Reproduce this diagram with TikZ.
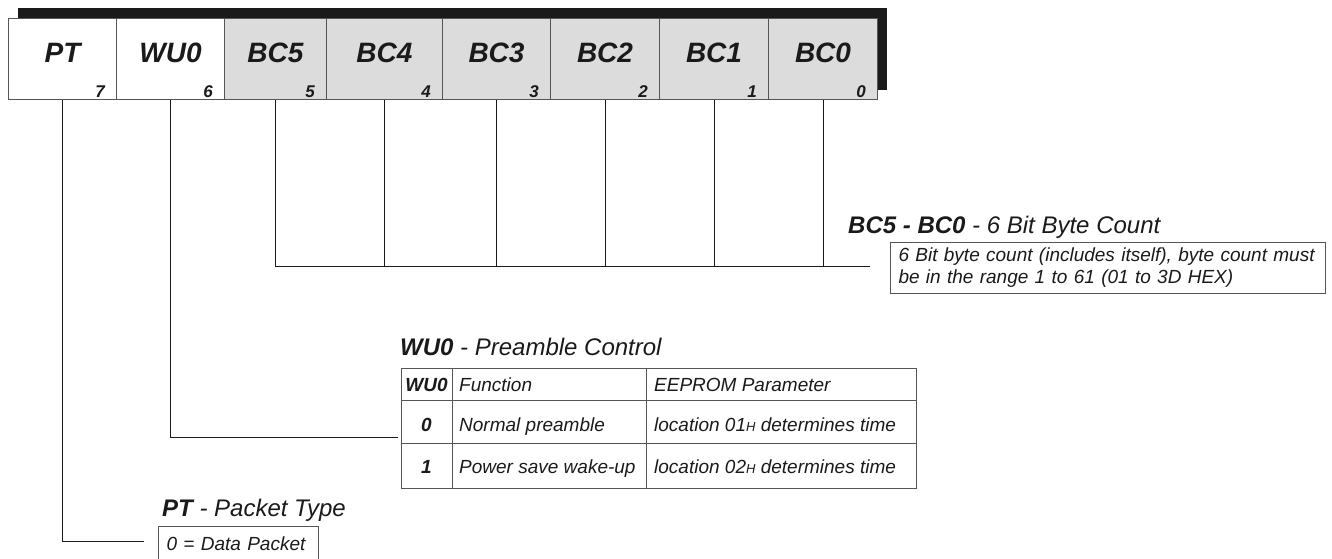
\documentclass[tikz,border=0pt]{standalone}
\usepackage{fontspec}
\setmainfont{Liberation Sans}
\definecolor{ink}{HTML}{1A1A1A}
\definecolor{cellgray}{HTML}{DCDCDC}
\definecolor{linegray}{HTML}{555555}
\begin{document}
\begin{tikzpicture}[x=1pt,y=-1pt,
  cell/.style={draw=linegray, line width=1pt, minimum height=81pt, inner sep=0pt, anchor=north west},
  namelbl/.style={font=\fontsize{28}{30}\selectfont\bfseries\itshape, text=ink, inner sep=0pt},
  bitlbl/.style={font=\fontsize{17}{18}\selectfont\bfseries\itshape, text=ink, inner sep=0pt, anchor=base east},
  conn/.style={draw=ink, line width=1pt},
  title/.style={font=\fontsize{24}{26}\selectfont\itshape, text=ink, inner sep=0pt, anchor=base west},
  body/.style={font=\fontsize{19}{22}\selectfont\itshape, text=ink},
  infobox/.style={body, draw=linegray, line width=1pt, align=left, anchor=north west, inner xsep=8pt, inner ysep=0pt},
  tcell/.style={font=\fontsize{19}{22}\selectfont\itshape, text=ink, inner sep=0pt, anchor=base west},
  tbold/.style={font=\fontsize{19}{22}\selectfont\bfseries\itshape, text=ink, inner sep=0pt, anchor=base}
]
\clip (0,0) rectangle (1332,559);
% shadow of the register
\fill[ink] (18,8) rectangle (887,90);
% register cells
\node[cell, fill=white,    minimum width=108pt] (pt)  at (8,18) {};
\node[cell, fill=white,    minimum width=108pt] (wu)  at (116,18) {};
\node[cell, fill=cellgray, minimum width=102pt] (bc5) at (224,18) {};
\node[cell, fill=cellgray, minimum width=116pt] (bc4) at (326,18) {};
\node[cell, fill=cellgray, minimum width=108pt] (bc3) at (442,18) {};
\node[cell, fill=cellgray, minimum width=109pt] (bc2) at (550,18) {};
\node[cell, fill=cellgray, minimum width=109pt] (bc1) at (659,18) {};
\node[cell, fill=cellgray, minimum width=109pt] (bc0) at (768,18) {};
% cell names
\foreach \n/\t in {pt/PT, wu/WU0, bc5/BC5, bc4/BC4, bc3/BC3, bc2/BC2, bc1/BC1, bc0/BC0}
  \node[namelbl] (\n-name) at ([yshift=6.5pt]\n.center) {\t};
% bit numbers
\foreach \n/\b in {pt/7, wu/6, bc5/5, bc4/4, bc3/3, bc2/2, bc1/1, bc0/0}
  \node[bitlbl] (\n-bit) at ([xshift=-12pt,yshift=2.5pt]\n.south east) {\b};

% BC5 - BC0 description
\node[title] (bctitle) at (848,233) {\bfseries BC5 - BC0\mdseries{} - 6 Bit Byte Count};
\node[infobox, text width=419pt, minimum height=51pt] (bcbox) at (890,242)
  {6 Bit byte count (includes itself), byte count must\\be in the range 1 to 61 (01 to 3D HEX)};
\coordinate (bcbus) at (870,266);
\draw[conn] (bc5.south) |- (bcbus);
\foreach \n in {bc4,bc3,bc2,bc1,bc0}
  \draw[conn] (\n.south) -- (\n.south |- bcbus);

% WU0 description
\node[title] (wutitle) at (400,355) {\bfseries WU0\mdseries{} - Preamble Control};
\node[draw=linegray, line width=1.2pt, minimum width=515pt, minimum height=120pt, inner sep=0pt, anchor=north west] (tbl) at (401,368) {};
\draw[linegray, line width=1pt] (401,400) -- (916,400);
\draw[linegray, line width=1pt] (401,443) -- (916,443);
\draw[linegray, line width=1pt] (452,368) -- (452,488);
\draw[linegray, line width=1pt] (646,368) -- (646,488);
\node[tbold] (h1) at (426.5,391) {WU0};
\node[tcell] (h2) at (459,391) {Function};
\node[tcell] (h3) at (654,391) {EEPROM Parameter};
\node[tbold] (r1a) at (426.5,431) {0};
\node[tcell] (r1b) at (459,431) {Normal preamble};
\node[tcell] (r1c) at (654,431) {location 01{\fontsize{13}{14}\selectfont H} determines time};
\node[tbold] (r2a) at (426.5,473) {1};
\node[tcell] (r2b) at (459,473) {Power save wake-up};
\node[tcell] (r2c) at (654,473) {location 02{\fontsize{13}{14}\selectfont H} determines time};
\coordinate (wuend) at (398,437);
\draw[conn] (wu.south) |- (wuend);

% PT description
\node[title] (pttitle) at (162,516) {\bfseries PT\mdseries{} - Packet Type};
\node[infobox, text width=144pt, minimum height=34pt] (ptbox) at (158,526) {0 = Data Packet};
\coordinate (ptend) at (144,541);
\draw[conn] (pt.south) |- (ptend);
\end{tikzpicture}
\end{document}
